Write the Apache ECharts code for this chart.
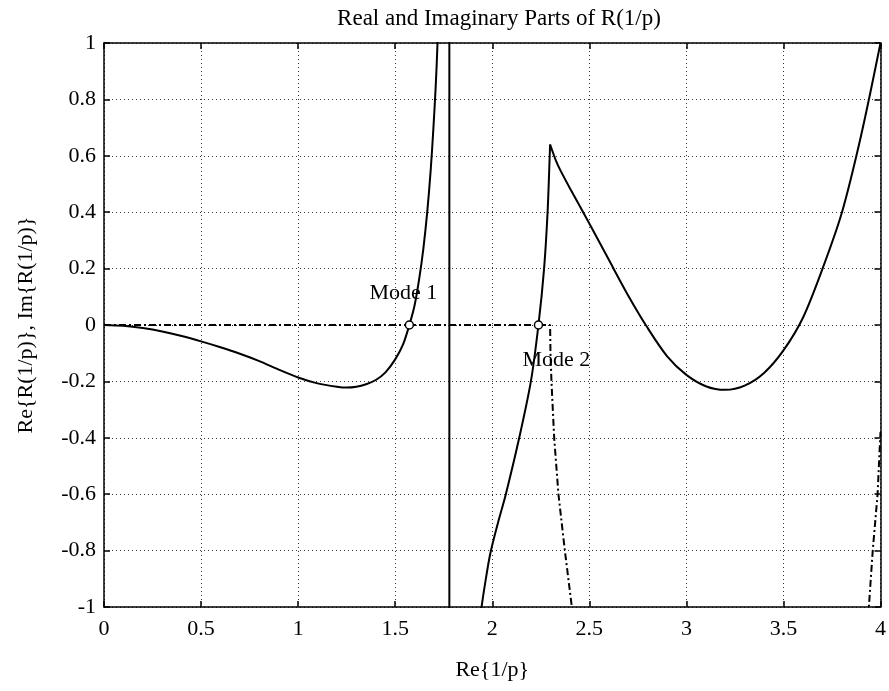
<!DOCTYPE html>
<html>
<head>
<meta charset="utf-8">
<script src="https://cdn.jsdelivr.net/npm/echarts@6/dist/echarts.min.js"></script>
<style>html,body{margin:0;padding:0;background:#fff;}#c{width:889px;height:691px;}</style>
</head>
<body>
<div id="c"></div>
<script>
// ---- data ----
var titleText = 'Real and Imaginary Parts of R(1/p)';
var xName = 'Re{1/p}';
var yName = 'Re{R(1/p)}, Im{R(1/p)}';
var xTicks = ['0', '0.5', '1', '1.5', '2', '2.5', '3', '3.5', '4'];
var yTicks = ['-1', '-0.8', '-0.6', '-0.4', '-0.2', '0', '0.2', '0.4', '0.6', '0.8', '1'];

// Re{R(1/p)} (solid) -- branch before the pole
var reAX = [0, 0.1, 0.2, 0.3, 0.4, 0.5, 0.6, 0.7, 0.8, 0.9, 1.0, 1.1, 1.2, 1.25, 1.3, 1.35, 1.4, 1.45, 1.5, 1.54, 1.573, 1.6, 1.625, 1.645, 1.665, 1.683, 1.697, 1.709, 1.718, 1.735, 1.75, 1.765, 1.779];
var reAY = [0, -0.003, -0.011, -0.023, -0.039, -0.058, -0.079, -0.102, -0.128, -0.158, -0.186, -0.207, -0.219, -0.222, -0.219, -0.21, -0.195, -0.168, -0.122, -0.07, 0, 0.07, 0.17, 0.27, 0.4, 0.55, 0.7, 0.85, 1.0, 1.4, 1.9, 3, 40];
// the jump through the pole
var polePX = [1.779, 1.779];
var polePY = [40, -40];
// branch after the pole, up to the cusp
var reBX = [1.779, 1.8, 1.85, 1.89, 1.92, 1.945, 1.967, 1.99, 2.03, 2.07, 2.139, 2.199, 2.238, 2.267, 2.285, 2.296, 2.298];
var reBY = [-40, -3.5, -1.9, -1.4, -1.15, -1, -0.9, -0.81, -0.7, -0.6, -0.4, -0.2, 0, 0.2, 0.4, 0.6, 0.64];
// branch after the cusp
var reCX = [2.298, 2.327, 2.35, 2.4, 2.5, 2.6, 2.7, 2.8, 2.9, 3.0, 3.1, 3.2, 3.3, 3.4, 3.5, 3.6, 3.7, 3.8, 3.9, 4.0];
var reCY = [0.64, 0.585, 0.55, 0.485, 0.36, 0.232, 0.105, -0.01, -0.11, -0.177, -0.217, -0.23, -0.215, -0.17, -0.09, 0.025, 0.197, 0.396, 0.672, 1.0];

// Im{R(1/p)} (dash-dot), two visible pieces
var imX1 = [0, 2.298, 2.3, 2.305, 2.319, 2.341, 2.374, 2.41, 2.44];
var imY1 = [0, 0, -0.1, -0.2, -0.4, -0.6, -0.8, -1, -1.3];
var imX2 = [3.91, 3.94, 3.96, 3.985, 3.995, 4.0];
var imY2 = [-1.3, -1, -0.8, -0.6, -0.45, -0.38];

// mode markers
var modeX = [1.573, 2.238];
var modeY = [0, 0];
var modeNames = ['Mode 1', 'Mode 2'];

// ---- build chart ----
function zip(xs, ys) { return xs.map(function (x, i) { return [x, ys[i]]; }); }

var FONT = '"Liberation Serif", "DejaVu Serif", serif';
var gridLine = { show: true, lineStyle: { color: '#333', width: 1, type: [1, 3] } };
var axLine = { show: true, onZero: false, lineStyle: { color: '#000', width: 1.5 } };
var tick = { show: true, inside: true, length: 6, lineStyle: { color: '#000', width: 1.5 } };
var solid = { color: '#000', width: 2 };
var dashdot = { color: '#000', width: 2, type: [7, 3, 2, 3] };

function lineSeries(name, data, style, smooth) {
  return { name: name, type: 'line', data: data, showSymbol: false, symbol: 'none', clip: true,
    smooth: smooth, lineStyle: style, z: 3, emphasis: { disabled: true } };
}
function modeSeries(i, offset) {
  return {
    name: modeNames[i], type: 'scatter', data: [[modeX[i], modeY[i]]],
    symbol: 'circle', symbolSize: 8, emphasis: { disabled: true },
    itemStyle: { color: '#fff', borderColor: '#000', borderWidth: 1.5, opacity: 1 },
    label: { show: true, formatter: modeNames[i], position: 'inside', offset: offset,
      fontFamily: FONT, fontSize: 22, color: '#000', opacity: 1,
      textBorderWidth: 0, textBorderColor: 'transparent' }, z: 4
  };
}

var chart = echarts.init(document.getElementById('c'), null, { renderer: 'canvas' });
chart.setOption({
  animation: false,
  backgroundColor: '#fff',
  title: {
    text: titleText, left: 494, top: 2, textAlign: 'center',
    textStyle: { fontFamily: FONT, fontSize: 23, fontWeight: 'normal', color: '#000' }
  },
  grid: { left: 104, right: 7, top: 43, bottom: 84, containLabel: false },
  xAxis: [{
    type: 'value', min: 0, max: 4, interval: 0.5, position: 'bottom',
    name: xName, nameLocation: 'middle', nameGap: 52,
    nameTextStyle: { fontFamily: FONT, fontSize: 22, color: '#000' },
    axisLine: axLine, axisTick: tick, splitLine: gridLine,
    axisLabel: { margin: 11, fontFamily: FONT, fontSize: 22, color: '#000',
      formatter: function (v) { return xTicks[Math.round(v / 0.5)]; } }
  }, {
    type: 'value', min: 0, max: 4, interval: 0.5, position: 'top',
    axisLine: axLine, axisTick: tick, splitLine: { show: false }, axisLabel: { show: false }
  }],
  yAxis: [{
    type: 'value', min: -1, max: 1, interval: 0.2, position: 'left',
    name: yName, nameLocation: 'middle', nameGap: 67, nameRotate: 90,
    nameTextStyle: { fontFamily: FONT, fontSize: 22, color: '#000' },
    axisLine: axLine, axisTick: tick, splitLine: gridLine,
    axisLabel: { margin: 8, fontFamily: FONT, fontSize: 22, color: '#000',
      formatter: function (v) { return yTicks[Math.round((v + 1) / 0.2)]; } }
  }, {
    type: 'value', min: -1, max: 1, interval: 0.2, position: 'right',
    axisLine: axLine, axisTick: tick, splitLine: { show: false }, axisLabel: { show: false }
  }],
  series: [
    lineSeries('Re', zip(reAX, reAY), solid, 0.3),
    lineSeries('Re', zip(polePX, polePY), solid, false),
    lineSeries('Re', zip(reBX, reBY), solid, 0.3),
    lineSeries('Re', zip(reCX, reCY), solid, 0.3),
    lineSeries('Im', zip(imX1, imY1), dashdot, false),
    lineSeries('Im', zip(imX2, imY2), dashdot, false),
    modeSeries(0, [-6, -32]),
    modeSeries(1, [18, 35])
  ]
});
</script>
</body>
</html>
